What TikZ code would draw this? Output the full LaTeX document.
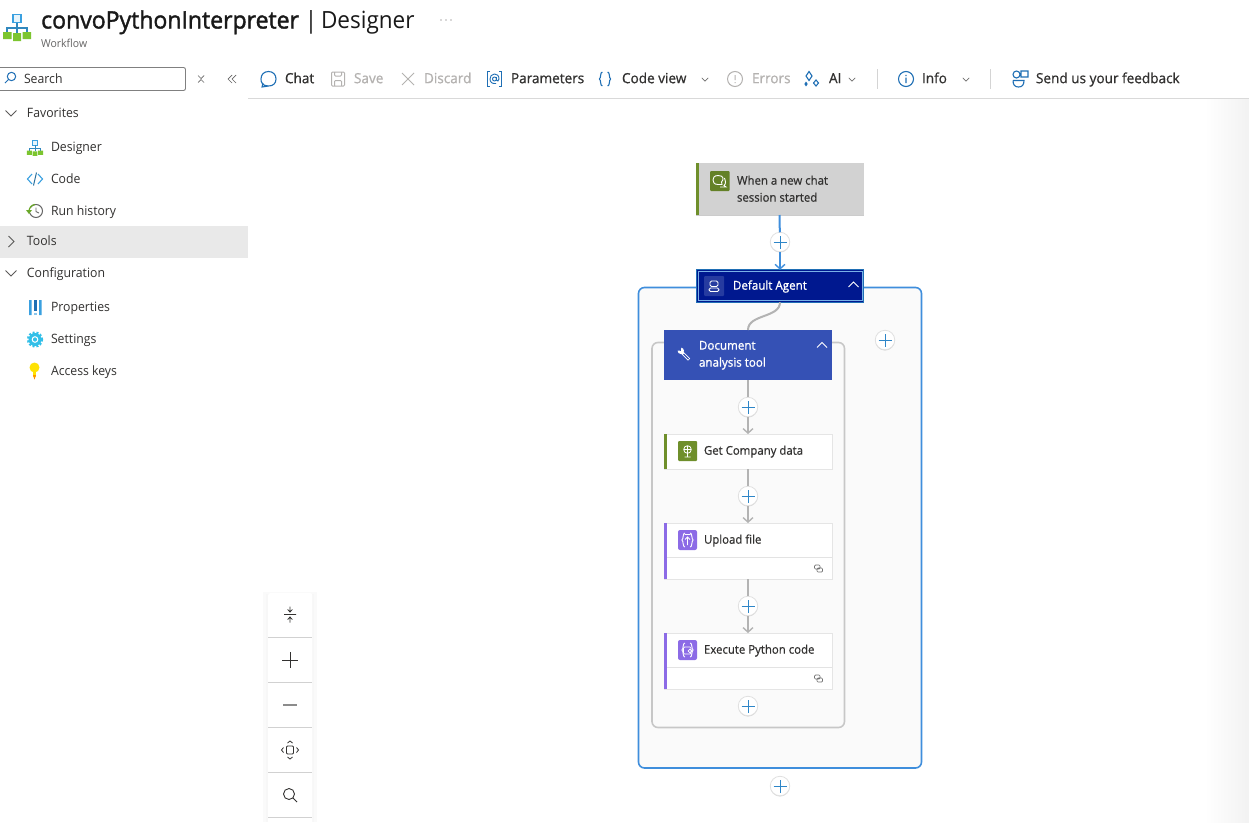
\documentclass[tikz,border=0pt]{standalone}
\usepackage{fontspec}
\setmainfont[FakeStretch=0.95]{Open Sans}
\newfontfamily\semib[FakeStretch=0.97,FakeBold=0.8]{Open Sans}
\newfontfamily\semic[FakeStretch=0.95,FakeBold=0.6]{Open Sans}
\newfontfamily\semiw[FakeStretch=0.95,FakeBold=1.0]{Open Sans}
\newfontfamily\titlebold[FakeStretch=0.96,FakeBold=1.6]{Open Sans}
\usetikzlibrary{arrows.meta,shadows}
\definecolor{ink}{HTML}{323130}
\definecolor{dim}{HTML}{B4B2B0}
\definecolor{tbblue}{HTML}{1F6FB5}
\definecolor{plusblue}{HTML}{2E86C8}
\definecolor{linkblue}{HTML}{3F8EDC}
\definecolor{linkgray}{HTML}{B3B3B3}
\definecolor{okgreen}{HTML}{6F8F2B}
\definecolor{purp}{HTML}{8C6BE6}
\definecolor{navy}{HTML}{00188F}
\definecolor{toolblue}{HTML}{3551B5}
\definecolor{leaf}{HTML}{7CC52F}
\definecolor{sky}{HTML}{3AA0E0}
\definecolor{gearc}{HTML}{32BFE8}
\tikzset{
  x=1pt,y=-1pt,
  lab/.style={anchor=mid west,inner sep=0,outer sep=0,yshift=-1.5pt,font=\fontsize{12.9}{14}\selectfont,text=ink},
  barlab/.style={anchor=mid west,inner sep=0,outer sep=0,yshift=-1.5pt,font=\semib\fontsize{14}{15}\selectfont,text=ink},
  offlab/.style={barlab,text=dim},
  cardlab/.style={anchor=mid west,inner sep=0,outer sep=0,yshift=-1pt,font=\semic\fontsize{12}{14}\selectfont,text=ink},
  whitelab/.style={anchor=mid west,inner sep=0,outer sep=0,yshift=-1pt,font=\semiw\fontsize{12.2}{14}\selectfont,text=white},
  card/.style={rectangle,inner sep=0,outer sep=0,minimum width=168,fill=white,draw=black!10,line width=.5,
    drop shadow={shadow xshift=0pt,shadow yshift=-1.2pt,opacity=.2,fill=black}},
  addbtn/.style={circle,inner sep=0,outer sep=0,minimum size=19.5,fill=white,draw=black!12,line width=.8,
    drop shadow={shadow xshift=0pt,shadow yshift=-.8pt,opacity=.15,fill=black},
    path picture={\draw[plusblue,line width=.95]
      ([xshift=-6.5pt]path picture bounding box.center) -- ([xshift=6.5pt]path picture bounding box.center)
      ([yshift=-6.5pt]path picture bounding box.center) -- ([yshift=6.5pt]path picture bounding box.center);}},
  bluelink/.style={linkblue,line width=2},
  graylink/.style={linkgray,line width=2},
  tipped/.style={-{Straight Barb[length=4.5pt,width=10pt,line width=1.4pt]}},
  chevline/.style={line width=.8,draw=ink!80},
  smallchev/.style={line width=.7,draw=ink!70},
  ticon/.style={line width=1.1,draw=tbblue},
  dicon/.style={line width=1,draw=dim},
  wicon/.style={line width=.9,draw=white},
}
\def\chevd#1#2{\draw[smallchev] (#1-3.2,#2-1.7) -- (#1,#2+1.7) -- (#1+3.2,#2-1.7);}
\def\chevu#1#2{\draw[white,line width=1] (#1-5,#2+2.5) -- (#1,#2-2.5) -- (#1+5,#2+2.5);}
\def\wfsym#1#2#3{\begin{scope}[shift={(#1,#2)},scale=#3]
  \draw[sky,line width=1.8*#3,fill=sky!12] (-3.7,-12) rectangle (3.7,-4);
  \draw[sky!85!black,line width=1.1*#3] (0,-4) -- (0,6) (-10,6) -- (-10,1.5) -- (10,1.5) -- (10,6);
  \fill[leaf] (-14,5.5) rectangle (-5.5,12.5) (-4,6.5) rectangle (4,14.5) (5.5,5.5) rectangle (14,12.5);
\end{scope}}
\def\braces#1{\draw[#1] (-2.6,-7) .. controls (-5,-7) and (-3.8,-1) .. (-5.6,0) .. controls (-3.8,1) and (-5,7) .. (-2.6,7)
  (2.6,-7) .. controls (5,-7) and (3.8,-1) .. (5.6,0) .. controls (3.8,1) and (5,7) .. (2.6,7);}
\begin{document}
\begin{tikzpicture}
\useasboundingbox (0,0) rectangle (1249,822);
\fill[white] (0,0) rectangle (1249,822);
\shade[left color=white,right color=black!5,draw=none] (1205,99) rectangle (1249,822);

% header
\wfsym{17}{26.5}{1}
\node[anchor=base west,inner sep=0,text=black!90,font=\fontsize{23.7}{26}\selectfont] (title) at (41,28.5) {{\titlebold\fontsize{24}{26}\selectfont convoPythonInterpreter} |\hspace{-2pt} Designer};
\node[anchor=mid west,inner sep=0,text=ink!75,font=\fontsize{11}{13}\selectfont] (subtitle) at (41,45) {Workflow};
\fill[ink!80] (441,20) circle (.7) (446,20) circle (.7) (451,20) circle (.7);

% search
\draw[black!50,line width=.9,rounded corners=2] (-2,67.5) rectangle (185.5,90.5);
\draw[tbblue,line width=1] (11.5,76.5) circle (4.2) (8.5,79.5) -- (5,83);
\node[lab] (search) at (24,79) {Search};
\draw[ink!75,line width=.7] (198,75.5) -- (201,78.5) -- (204,75.5) (198,82.5) -- (201,79.5) -- (204,82.5);
\draw[ink!75,line width=.7] (232,75) -- (228,79) -- (232,83) (236,75) -- (232,79) -- (236,83);
\draw[black!15,line width=1] (248,98.5) -- (1249,98.5);

% toolbar
\draw[ticon] (268.5,86) .. controls (262,86) and (261,82) .. (261,79) .. controls (261,74.5) and (264,71.5) .. (268.5,71.5) .. controls (273,71.5) and (276,74.5) .. (276,79) .. controls (276,83.5) and (273,86) .. (268.5,86) -- (262,87) -- (263,83);
\node[barlab] (chat) at (285,79) {Chat};
\draw[dicon,rounded corners=1] (331.5,72) rectangle (344.5,86) (334.5,72) -- (334.5,76) -- (341.5,76) -- (341.5,72) (334.5,86) -- (334.5,80.5) -- (341.5,80.5) -- (341.5,86);
\node[offlab] (save) at (354,79) {Save};
\draw[dicon] (402,73) -- (414,85) (414,73) -- (402,85);
\node[offlab] (discard) at (424,79) {Discard};
\draw[ticon] (490,71.5) -- (487.5,71.5) -- (487.5,86.5) -- (490,86.5) (499,71.5) -- (501.5,71.5) -- (501.5,86.5) -- (499,86.5);
\draw[tbblue,line width=.9] (494.5,79) circle (2) (496.5,77) -- (496.5,80) .. controls (497,82) and (499,81) .. (499,79) .. controls (499,75.5) and (497,74) .. (494.5,74) .. controls (491.5,74) and (490,76.5) .. (490,79) .. controls (490,82) and (492,84) .. (496,83.5);
\node[barlab] (params) at (511,79) {Parameters};
\begin{scope}[shift={(605,79)}]\braces{ticon}\end{scope}
\node[barlab] (codeview) at (622,79) {Code view};
\chevd{705}{79.5}
\draw[dicon] (735,79) circle (7.5) (735,75) -- (735,80) (735,82) -- (735,83);
\node[offlab] (errors) at (752,79) {Errors};
\draw[ticon] (809,71.5) -- (812,76) -- (809,80.5) -- (806,76) -- cycle (816,80) -- (818.5,83) -- (816,86) -- (813.5,83) -- cycle (806,82.5) -- (807,84) -- (806,85.5) -- (805,84) -- cycle;
\node[barlab] (ai) at (829,79) {AI};
\chevd{852}{79.5}
\draw[black!17,line width=1] (877.5,69) -- (877.5,89) (990.5,69) -- (990.5,89);
\draw[ticon] (906,79) circle (7.5) (906,77.5) -- (906,83) (906,74.8) -- (906,76);
\node[barlab] (info) at (922,79) {Info};
\chevd{966}{79.5}
\draw[ticon] (1016.5,74.5) circle (3.5) (1021,71) rectangle (1028,77) (1013,80.5) -- (1024,80.5) .. controls (1024,85) and (1022,87) .. (1018.5,87) .. controls (1015,87) and (1013,85) .. (1013,80.5);
\node[barlab] (feedback) at (1036,79) {Send us your feedback};

% sidebar
\fill[black!8.5] (0,226) rectangle (248,258);
\draw[chevline] (5.5,110.5) -- (11,116) -- (16.5,110.5);
\node[lab] (fav) at (27,113) {Favorites};
\wfsym{35}{147.5}{.58}
\node[lab] (designer) at (51,147) {Designer};
\draw[sky,line width=1.1] (32,174) -- (27.5,179) -- (32,184) (38,174) -- (42.5,179) -- (38,184);
\draw[sky!70!black,line width=1] (36.5,172.5) -- (33.5,185.5);
\node[lab] (codelab) at (51,179) {Code};
\draw[black!60,line width=1] (36,211) circle (6.5);
\draw[black!60,line width=.9] (36,207.5) -- (36,211.5) -- (39,213);
\fill[white] (27,206) rectangle (31,213);
\draw[leaf!85!black,line width=1.2] (29,212) .. controls (29,208) and (31,205) .. (35,204.5);
\fill[leaf!85!black] (26,210) -- (32,210) -- (29,214) -- cycle;
\node[lab] (runs) at (51,211) {Run history};
\draw[chevline] (8.5,236) -- (14,241.5) -- (8.5,247);
\node[lab] (tools) at (27,241) {Tools};
\draw[chevline] (5.5,270.5) -- (11,276) -- (16.5,270.5);
\node[lab] (config) at (27,273) {Configuration};
\fill[sky] (29,300) rectangle (31.5,315) (39,300) rectangle (41.5,315);
\fill[tbblue] (34,300) rectangle (36.5,311);
\fill[sky!60] (34,312.5) rectangle (36.5,315);
\node[lab] (props) at (51,307) {Properties};
\fill[gearc] (35,339.5) circle (6.5);
\draw[gearc,line width=2.2,dash pattern=on 2pt off 1.8pt] (35,339.5) circle (7);
\draw[white,line width=1] (35,339.5) circle (2.8);
\node[lab] (settingstxt) at (51,339) {Settings};
\fill[yellow!85!orange] (34.5,367.5) circle (5);
\fill[yellow!85!orange] (33,371) rectangle (36,377);
\fill[orange!85!yellow] (33,375) -- (34.5,379.5) -- (36,375) -- cycle;
\node[lab] (keys) at (51,371) {Access keys};

% zoom panel
\fill[black!2] (263,592) rectangle (317,822);
\fill[black!3] (266,594) rectangle (314,822);
\node[rectangle,rounded corners=2,fill=white,inner sep=0,minimum width=44,minimum height=240,anchor=north west] (panel) at (268,593) {};
\draw[black!18,line width=.9] (268,637.5) -- (312,637.5) (268,682.5) -- (312,682.5) (268,727.5) -- (312,727.5) (268,772.5) -- (312,772.5) (268,817.5) -- (312,817.5);
\draw[ink,line width=.8] (284,614.5) -- (296,614.5) (290,606.5) -- (290,611.5) (287.7,609.5) -- (290,612) -- (292.3,609.5) (290,622.5) -- (290,617.5) (287.7,619.5) -- (290,617) -- (292.3,619.5);
\draw[ink,line width=.9] (282,660) -- (298,660) (290,652) -- (290,667.5);
\draw[black!45,line width=1.3] (283,705) -- (297,705);
\draw[ink,line width=.8,rounded corners=1] (286.5,746) rectangle (293.5,754);
\draw[ink,line width=.8] (287.5,743) -- (290,741) -- (292.5,743) (287.5,757) -- (290,759) -- (292.5,757) (283.5,747.5) -- (281.5,750) -- (283.5,752.5) (296.5,747.5) -- (298.5,750) -- (296.5,752.5);
\draw[ink,line width=.9] (289,794) circle (5.5) (293,798) -- (297,802);

% containers
\draw[linkblue,line width=1.6,fill=black!2,rounded corners=6] (638.5,287.5) rectangle (921.5,768);
\draw[black!22,line width=1.6,fill=black!2,rounded corners=6] (652,342.5) rectangle (844.5,727.5);

% nodes
\node[card,fill=black!17.5,draw=none,minimum height=52] (trigger) at (779.5,189) {};
\node[rectangle,inner sep=0,outer sep=0,minimum width=167,minimum height=32.5,fill=navy,draw=tbblue,line width=1] (agent) at (780,286) {};
\draw[linkblue!70!white,line width=.9] ([shift={(1.5pt,-1.5pt)}]agent.north west) rectangle ([shift={(-1.5pt,1.5pt)}]agent.south east);
\node[rectangle,inner sep=0,outer sep=0,minimum width=168,fill=toolblue,minimum height=50] (tool) at (748,355) {};
\node[card,minimum height=35] (getdata) at (748,451.5) {};
\node[card,minimum height=56] (upload) at (748,551) {};
\node[card,minimum height=56] (exec) at (748,661) {};

\node[addbtn] (add1) at (780,242) {};
\node[addbtn] (add2) at (885,340) {};
\node[addbtn] (add3) at (748,407) {};
\node[addbtn] (add4) at (748,496) {};
\node[addbtn] (add5) at (748,606) {};
\node[addbtn] (add6) at (748,706) {};
\node[addbtn] (add7) at (780,786) {};

% connectors
\draw[bluelink] (trigger.south) -- (add1);
\draw[bluelink,tipped] (add1) -- (agent.north);
\draw[graylink] (agent.south) .. controls (780,318) and (748,314) .. (tool.north);
\draw[graylink] (tool.south) -- (add3);
\draw[graylink,tipped] (add3) -- (getdata.north);
\draw[graylink] (getdata.south) -- (add4);
\draw[graylink,tipped] (add4) -- (upload.north);
\draw[graylink] (upload.south) -- (add5);
\draw[graylink,tipped] (add5) -- (exec.north);

% card details
\fill[okgreen] (trigger.north west) rectangle ([xshift=3pt]trigger.south west);
\fill[okgreen] (getdata.north west) rectangle ([xshift=3pt]getdata.south west);
\fill[purp] (upload.north west) rectangle ([xshift=3pt]upload.south west);
\fill[purp] (exec.north west) rectangle ([xshift=3pt]exec.south west);
\draw[black!11,line width=.8] (667,557) -- (832,557) (667,667) -- (832,667);

% trigger
\fill[okgreen!90!black,rounded corners=1] (710,171) rectangle (729.5,191);
\draw[wicon] (718,175.5) .. controls (714,175.5) and (713,178) .. (713,180) .. controls (713,182) and (714,184.5) .. (718,184.5) -- (722,184.5) -- (721.5,182) .. controls (723,181) and (723,179) .. (723,178) .. controls (723,176.5) and (721,175.5) .. (718,175.5);
\draw[wicon] (724.5,178) .. controls (726,180) and (726,184) .. (724,185.5) -- (726,187) -- (720,187);
\node[cardlab] (t1) at (737,181) {When a new chat};
\node[cardlab] (t2) at (737,198) {session started};

% agent
\fill[navy!85!white,rounded corners=1] (704,276) rectangle (724,296);
\draw[white,line width=.8,rounded corners=1.5] (710,281) rectangle (718,286.5) (709,288) -- (719,288) -- (719,291.5) -- (709,291.5) -- cycle;
\node[whitelab] (a1) at (733,286) {Default Agent};
\chevu{853.5}{284.5}

% tool
\draw[white,line width=3] (681.5,352) -- (689,359.5);
\draw[toolblue,line width=1.2] (683.5,354) -- (688.6,359.1);
\fill[white] (680.8,350.8) circle (3.2);
\fill[toolblue] (680.8,350.8) -- (677,350.5) -- (677,346) -- (681.2,346) -- cycle;
\node[whitelab] (d1) at (699,346) {Document};
\node[whitelab] (d2) at (699,363) {analysis tool};
\chevu{822}{345}

% get data
\fill[okgreen,rounded corners=1] (678,441) rectangle (697,461);
\draw[white,line width=.8] (687.5,449.5) circle (3.8) (687.5,445.7) -- (687.5,453.3) (683.7,449.5) -- (691.3,449.5) (687.5,453.3) -- (687.5,457) (684.5,457) -- (690.5,457);
\node[cardlab] (g1) at (704,451) {Get Company data};

% upload
\fill[purp,rounded corners=2] (678,530) rectangle (697,550);
\begin{scope}[shift={(687.5,540)}]\braces{wicon}\end{scope}
\draw[white,line width=.8] (684.5,534.5) -- (690.5,534.5) (687.5,545) -- (687.5,537) (685,539.5) -- (687.5,537) -- (690,539.5);
\node[cardlab] (u1) at (704,540) {Upload file};
\draw[black!55,line width=.7,rounded corners=1] (814.5,565) rectangle (820,569) (817,568) rectangle (822.5,572);

% exec
\fill[purp,rounded corners=2] (678,640) rectangle (697,660);
\begin{scope}[shift={(687.5,650)}]\braces{wicon}\end{scope}
\draw[white,line width=.7,rounded corners=1] (683.5,647) rectangle (691,654);
\draw[white,line width=.7] (690,651) circle (1.8);
\node[cardlab] (e1) at (704,650) {Execute Python code};
\draw[black!55,line width=.7,rounded corners=1] (814.5,675) rectangle (820,679) (817,678) rectangle (822.5,682);
\end{tikzpicture}
\end{document}
